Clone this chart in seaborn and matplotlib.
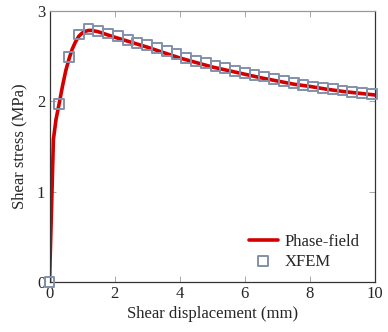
import numpy as np
import pandas as pd
import matplotlib
matplotlib.use("Agg")
import matplotlib.pyplot as plt
import seaborn as sns

# Phase-field curve
pf_x = [0.0, 0.12, 0.2, 0.3, 0.4, 0.5, 0.6, 0.7, 0.8, 0.9, 1.0, 1.1, 1.2, 1.3, 1.5,
        2.0, 2.5, 3.0, 3.5, 4.0, 4.5, 5.0, 5.5, 6.0, 6.5, 7.0, 7.5, 8.0, 8.5, 9.0, 9.5, 10.0]
pf_y = [0.0, 1.58, 1.80, 1.98, 2.17, 2.34, 2.47, 2.58, 2.66, 2.72, 2.755, 2.775, 2.785, 2.785, 2.77,
        2.71, 2.655, 2.60, 2.54, 2.48, 2.43, 2.38, 2.34, 2.30, 2.26, 2.225, 2.19, 2.165, 2.135, 2.11, 2.09, 2.07]

# XFEM results
xf_x = [0.0, 0.3, 0.6, 0.9, 1.2, 1.5, 1.8, 2.1, 2.4, 2.7, 3.0, 3.3, 3.6, 3.9, 4.2, 4.5, 4.8,
        5.1, 5.4, 5.7, 6.0, 6.3, 6.6, 6.9, 7.2, 7.5, 7.8, 8.1, 8.4, 8.7, 9.0, 9.3, 9.6, 9.9]
xf_y = [0.0, 1.97, 2.49, 2.74, 2.80, 2.78, 2.75, 2.72, 2.68, 2.65, 2.62, 2.59, 2.555, 2.52, 2.48, 2.45, 2.42,
        2.39, 2.37, 2.34, 2.31, 2.295, 2.275, 2.25, 2.225, 2.205, 2.185, 2.165, 2.15, 2.135, 2.12, 2.105, 2.09, 2.08]

x_ticks = [0, 2, 4, 6, 8, 10]
y_ticks = [0, 1, 2, 3]

sns.set_theme(style="white")
plt.rcParams['font.family'] = ['Liberation Serif', 'DejaVu Serif']
plt.rcParams['mathtext.fontset'] = 'stix'

fig = plt.figure(figsize=(3.88, 3.32), dpi=100)
ax = fig.add_axes([0.1276, 0.1506, 0.8389, 0.8163])

pf_df = pd.DataFrame({"x": pf_x, "y": pf_y})
xf_df = pd.DataFrame({"x": xf_x, "y": xf_y})

sns.lineplot(data=pf_df, x="x", y="y", ax=ax, color="#d40000", linewidth=2.6,
             label="Phase-field", sort=False)
sns.scatterplot(data=xf_df, x="x", y="y", ax=ax, marker="s", s=50,
                facecolor="none", edgecolor="#8390aa", linewidth=1.4,
                label="XFEM", clip_on=False, zorder=3)

ax.set_xlim(0, 10)
ax.set_ylim(0, 3)
ax.set_xticks(x_ticks)
ax.set_yticks(y_ticks)
ax.set_xticklabels([str(t) for t in x_ticks], fontsize=12)
ax.set_yticklabels([str(t) for t in y_ticks], fontsize=12)
ax.set_xlabel("Shear displacement (mm)", fontsize=12, labelpad=3)
ax.set_ylabel("Shear stress (MPa)", fontsize=12, labelpad=7)

ax.tick_params(direction="in", length=4, width=0.6, color="#999999",
               top=True, right=True, bottom=True, left=True, pad=3)
for s in ax.spines.values():
    s.set_visible(True)
    s.set_color("#333333")
    s.set_linewidth(0.9)
ax.spines["top"].set_color("#999999")

leg = ax.legend(loc="lower right", frameon=False, fontsize=12,
                handlelength=1.7, handletextpad=0.45, labelspacing=0.25,
                bbox_to_anchor=(1.0, -0.01))

fig.savefig("out.png", dpi=100)
